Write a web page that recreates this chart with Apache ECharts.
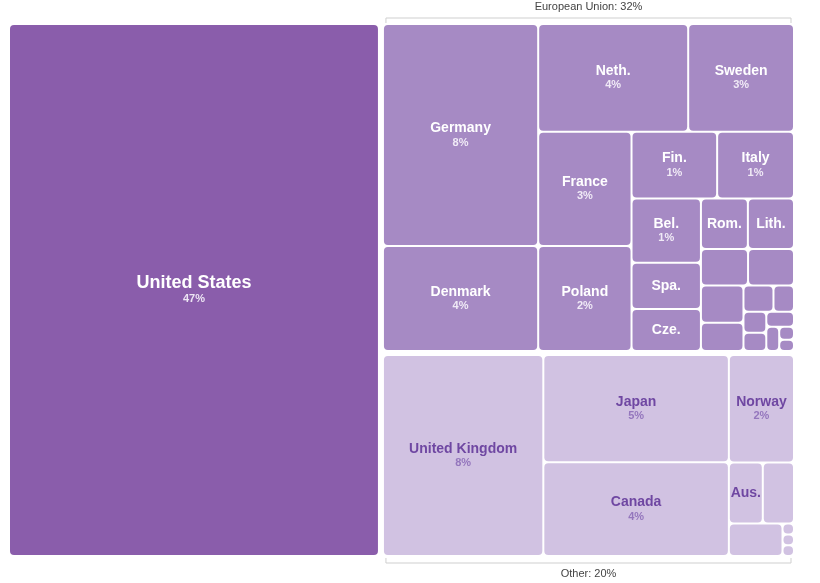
<!DOCTYPE html>
<html>
<head>
<meta charset="utf-8">
<script src="https://cdn.jsdelivr.net/npm/echarts@6/dist/echarts.min.js"></script>
<style>
  html, body { margin: 0; padding: 0; background: #fff; }
  #main { width: 820px; height: 583px; }
</style>
</head>
<body>
<div id="main"></div>
<script>
// top level groups
const groupNames = ['United States', 'European Union', 'Other'];
const usValue = 47.0;

// EU members (share of total, %)
const euNames = ['Germany', 'Denmark', 'Netherlands', 'Sweden', 'France', 'Poland', 'Finland', 'Italy',
  'Belgium', 'Spain', 'Czechia', 'Romania', 'Lithuania', 'Estonia', 'Austria', 'Latvia', 'Portugal',
  'Slovakia', 'Croatia', 'Greece', 'Ireland', 'Luxembourg', 'Bulgaria', 'Slovenia', 'Hungary'];
const euShort = ['Germany', 'Denmark', 'Neth.', 'Sweden', 'France', 'Poland', 'Fin.', 'Italy',
  'Bel.', 'Spa.', 'Cze.', 'Rom.', 'Lith.', '', '', '', '', '', '', '', '', '', '', '', ''];
const euValues = [8.26, 3.91, 3.87, 2.73, 2.56, 2.35, 1.37, 1.23, 1.07, 0.77, 0.70, 0.57, 0.56,
  0.41, 0.40, 0.38, 0.29, 0.19, 0.13, 0.115, 0.10, 0.10, 0.075, 0.046, 0.04];

// other donors
const otherNames = ['United Kingdom', 'Japan', 'Canada', 'Norway', 'Australia', 'Switzerland',
  'South Korea', 'New Zealand', 'Iceland', 'Taiwan'];
const otherShort = ['United Kingdom', 'Japan', 'Canada', 'Norway', 'Aus.', '', '', '', '', ''];
const otherValues = [7.78, 4.8, 4.2, 1.69, 0.50, 0.46, 0.42, 0.03, 0.03, 0.03];

const colors = { us: '#8a5dab', eu: '#a68ac4', other: '#d1c2e2' };

const sum = arr => arr.reduce((a, b) => a + b, 0);
const total = usValue + sum(euValues) + sum(otherValues);
const pct = v => Math.round(v / total * 100) + '%';

// label lookup by name
const labelInfo = {};
labelInfo[groupNames[0]] = { short: groupNames[0], key: 'us', value: usValue };
euNames.forEach((n, i) => { labelInfo[n] = { short: euShort[i], key: 'eu', value: euValues[i] }; });
otherNames.forEach((n, i) => { labelInfo[n] = { short: otherShort[i], key: 'ot', value: otherValues[i] }; });

function leaves(names, values, color) {
  return names.map((n, i) => ({ name: n, value: values[i], itemStyle: { color: color } }));
}

const treeData = [
  { name: groupNames[0], value: usValue, itemStyle: { color: colors.us } },
  { name: groupNames[1], value: sum(euValues), children: leaves(euNames, euValues, colors.eu) },
  { name: groupNames[2], value: sum(otherValues), children: leaves(otherNames, otherValues, colors.other) }
];

const font = '"Liberation Sans", Arial, Helvetica, sans-serif';
const rich = {
  usn: { fontFamily: font, fontWeight: 'bold', fontSize: 18, fill: '#fff', lineHeight: 18 },
  usp: { fontFamily: font, fontWeight: 'bold', fontSize: 11, fill: '#ece4f3', lineHeight: 13 },
  eun: { fontFamily: font, fontWeight: 'bold', fontSize: 14, fill: '#fff', lineHeight: 15 },
  eup: { fontFamily: font, fontWeight: 'bold', fontSize: 11, fill: '#f0eaf6', lineHeight: 13 },
  otn: { fontFamily: font, fontWeight: 'bold', fontSize: 14, fill: '#6f47a2', lineHeight: 15 },
  otp: { fontFamily: font, fontWeight: 'bold', fontSize: 11, fill: '#9476bd', lineHeight: 13 }
};

let myChart = echarts.init(document.getElementById('main'));
myChart.setOption({
  animation: false,
  series: [{
    type: 'treemap',
    left: 10,
    top: 25,
    right: 27,
    bottom: 28,
    squareRatio: 1,
    roam: false,
    nodeClick: false,
    breadcrumb: { show: false },
    visibleMin: 0,
    data: treeData,
    label: { show: false },
    upperLabel: { show: false },
    levels: [
      { itemStyle: { gapWidth: 6, borderWidth: 0, borderColor: '#fff' } },
      { itemStyle: { gapWidth: 2, borderWidth: 0, borderColor: '#fff', borderRadius: 4 } },
      { itemStyle: { gapWidth: 0, borderWidth: 0, borderRadius: 4 } }
    ]
  }]
});

// labels and brackets, placed from the treemap's own layout
function drawOverlay() {
  const series = myChart.getModel().getSeriesByIndex(0);
  const info = series.layoutInfo;
  const root = series.getData().tree.root;
  const els = [];

  function walk(node, ox, oy) {
    const l = node.getLayout();
    const x = ox + l.x, y = oy + l.y;
    if (node.children && node.children.length) {
      node.children.forEach(c => walk(c, x, y));
      return;
    }
    const d = labelInfo[node.name];
    if (!d || !d.short) return;
    let s = '{' + d.key + 'n|' + d.short + '}';
    if (d.value >= 1) s += '\n{' + d.key + 'p|' + pct(d.value) + '}';
    els.push({
      type: 'text',
      z: 100,
      x: x + l.width / 2,
      y: y + l.height / 2,
      style: { text: s, rich: rich, align: 'center', verticalAlign: 'middle' },
      silent: true
    });
  }
  root.children.forEach(c => walk(c, info.x, info.y));

  root.children.forEach(function (node) {
    if (node.name === groupNames[0]) return;
    const l = node.getLayout();
    const x0 = info.x + l.x + 2, x1 = info.x + l.x + l.width - 2;
    const top = node.name === groupNames[1];
    const yEdge = top ? info.y + l.y - 2 : info.y + l.y + l.height + 3;
    const yLine = top ? yEdge - 5 : yEdge + 5;
    els.push({
      type: 'polyline',
      z: 100,
      shape: { points: [[x0, yEdge], [x0, yLine], [x1, yLine], [x1, yEdge]] },
      style: { stroke: '#cfcfcf', lineWidth: 1, fill: null },
      silent: true
    });
    els.push({
      type: 'text',
      z: 100,
      x: (x0 + x1) / 2,
      y: top ? yLine - 6 : yLine + 5,
      style: {
        text: node.name + ': ' + pct(node.getValue()),
        fontFamily: font,
        fontSize: 11,
        fill: '#444',
        align: 'center',
        verticalAlign: top ? 'bottom' : 'top'
      },
      silent: true
    });
  });
  myChart.setOption({ graphic: els });
}
drawOverlay();
</script>
</body>
</html>
